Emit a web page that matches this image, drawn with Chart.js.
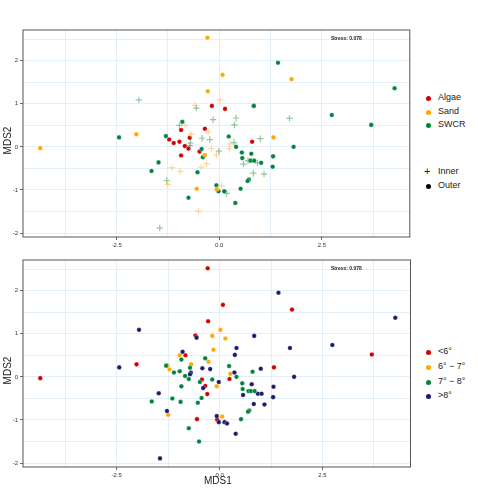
<!DOCTYPE html>
<html><head><meta charset="utf-8">
<script src="https://cdn.jsdelivr.net/npm/chart.js@4"></script>
<style>
body{margin:0;background:#fff;font-family:"Liberation Sans",Arial,sans-serif;width:478px;height:504px;position:relative;overflow:hidden}
canvas{position:absolute}
.t{position:absolute;font-size:9px;color:#222;white-space:nowrap}
.d{position:absolute;width:5px;height:5px;border-radius:50%}
</style></head><body>
<canvas id="c1" width="415" height="235" style="left:0;top:20px;width:415px;height:235px"></canvas>
<canvas id="c2" width="415" height="235" style="left:0;top:250px;width:415px;height:235px"></canvas>
<div class="t" style="left:-6px;top:135px;transform:rotate(-90deg);font-size:10px">MDS2</div>
<div class="t" style="left:-6px;top:365px;transform:rotate(-90deg);font-size:10px">MDS2</div>
<div class="t" style="left:204px;top:475px;font-size:10px">MDS1</div>
<div class="t" style="left:331px;top:35px;font-size:5px;font-weight:bold">Stress: 0.078</div>
<div class="t" style="left:331px;top:265px;font-size:5px;font-weight:bold">Stress: 0.078</div>
<div id="leg"></div>
<script>
// ---- top panel: habitat / position ----
const algaeX=[-0.18,0.14,-0.35,-0.93,-0.72,-1.22,-1.11,-0.97,-0.84,-0.75,-0.48,-0.93,0.80,0.84];
const algaeY=[0.95,0.88,0.42,0.39,0.21,0.17,0.09,0.12,0.02,-0.04,-0.11,-0.20,0.12,0.95];
const sandOutX=[-0.29,0.08,1.76,-0.28,-2.02,-4.36,1.32,-0.35,-0.55,-0.06];
const sandOutY=[2.53,1.67,1.57,1.29,0.29,-0.03,0.22,-0.19,-0.97,-0.98];
const sandInX=[0.02,-0.59,-0.83,-0.27,-0.69,0.26,-0.19,0.25,-0.07,-0.31,-0.44,-1.15,-0.95,-1.25,0.06,-0.51];
const sandInY=[1.09,0.96,0.50,0.34,0.29,0.07,-0.04,-0.04,-0.19,-0.39,-0.47,-0.48,-0.57,-0.87,-0.90,-1.49];
const swcrOutX=[1.43,4.27,2.74,3.70,0.84,-0.90,-2.44,-1.30,0.23,0.41,1.81,-0.43,0.55,0.78,-0.40,0.56,1.31,0.76,0.85,1.02,1.30,-1.48,-1.65,-0.53,0.72,0.69,-0.07,-0.02,0.12,0.52,-0.75,0.39];
const swcrOutY=[1.95,1.36,0.74,0.51,0.95,0.58,0.22,0.25,0.24,0.00,0.00,-0.05,-0.13,-0.16,-0.24,-0.26,-0.22,-0.32,-0.32,-0.37,-0.46,-0.36,-0.56,-0.59,-0.76,-0.79,-0.89,-1.03,-1.03,-0.97,-1.18,-1.30];
const swcrInX=[-1.96,-0.56,-0.15,0.41,1.71,0.37,-0.97,-0.42,-0.23,1.00,-0.70,-0.72,0.36,-0.01,0.70,0.93,0.59,0.83,1.09,-1.28,0.18,-1.45];
const swcrInY=[1.09,0.90,0.63,0.67,0.66,0.51,0.50,0.20,0.17,0.19,0.09,0.03,0.10,-0.10,-0.32,-0.37,-0.40,-0.61,-0.63,-0.78,-1.08,-1.88];
// ---- bottom panel: temperature ----
const t1X=[-0.29,0.08,1.76,-0.28,-0.59,-0.83,-2.02,-4.36,1.32,3.70,-0.43,-0.35,-0.30,-0.55,-0.06,0.24];
const t1Y=[2.52,1.67,1.56,1.29,0.96,0.50,0.29,-0.03,0.22,0.52,-0.06,-0.21,-0.40,-0.98,-0.99,-0.05];
const t2X=[0.02,-0.18,0.14,-0.15,-0.97,-0.27,-0.69,-1.27,-1.22,0.26,-0.07,-1.25,0.06];
const t2Y=[1.09,0.95,0.89,0.63,0.50,0.35,0.29,0.26,0.17,0.07,-0.22,-0.88,-0.92];
const t3X=[-0.35,-0.93,-1.30,-0.72,-1.11,-0.97,-0.84,-0.75,-0.48,-0.93,0.23,0.80,0.41,-0.18,0.55,0.56,0.70,0.76,0.85,-1.15,-0.44,-1.65,-0.95,-0.53,0.72,0.69,0.52,-0.75,-0.50];
const t3Y=[0.43,0.40,0.26,0.21,0.10,0.13,0.02,-0.05,-0.12,-0.22,0.25,0.12,0.00,-0.06,-0.15,-0.28,-0.33,-0.33,-0.33,-0.50,-0.49,-0.57,-0.58,-0.60,-0.78,-0.81,-0.98,-1.19,-1.50];
const t4X=[1.43,4.27,2.74,-1.96,-0.56,0.84,1.71,0.41,0.37,-0.90,-2.44,-0.42,-0.23,1.00,-0.70,-0.72,0.36,1.81,-0.02,-0.40,0.78,1.31,-1.48,0.57,0.93,1.02,1.30,0.83,1.09,-1.28,-0.07,-0.02,0.12,0.18,0.39,-1.45];
const t4Y=[1.95,1.37,0.74,1.09,0.91,0.95,0.67,0.67,0.51,0.58,0.22,0.20,0.18,0.19,0.10,0.06,0.10,0.00,-0.12,-0.26,-0.17,-0.23,-0.38,-0.42,-0.39,-0.39,-0.47,-0.63,-0.64,-0.79,-0.91,-1.05,-1.05,-1.08,-1.32,-1.89];
const xTicks=[-2.5,0,2.5], yTicks=[-2,-1,0,1,2];

const RED='#d00000',ORG='#ffa800',GRN='#00843d',NAV='#1b1a6b';
const pts=(X,Y)=>X.map((x,i)=>({x,y:Y[i]}));
function dot(X,Y,c){return{data:pts(X,Y),backgroundColor:c,borderColor:'rgba(255,255,255,0.6)',borderWidth:0.5,pointRadius:2.3};}
function cross(X,Y,c){return{data:pts(X,Y),pointStyle:'cross',borderColor:c,borderWidth:1.2,pointRadius:3.2};}
const frame={id:'frame',afterDraw(ch){const a=ch.chartArea,x=ch.ctx;x.save();x.strokeStyle='#555';x.lineWidth=1;x.strokeRect(a.left,a.top,a.right-a.left,a.bottom-a.top);x.restore();}};
function opts(){return{responsive:false,animation:false,layout:{padding:{top:10,right:2}},
plugins:{legend:{display:false},tooltip:{enabled:false}},
scales:{x:{type:'linear',min:-4.78,max:4.64,afterBuildTicks(s){s.ticks=[-3.75,-2.5,-1.25,0,1.25,2.5,3.75].map(v=>({value:v}));},
 afterFit(s){s.height=18;},grid:{color:'#dcebf7',lineWidth:0.8,drawTicks:true,tickLength:3,tickColor:c=>xTicks.includes(c.tick.value)?'#444':'rgba(0,0,0,0)'},border:{display:false},
 ticks:{font:{size:6},color:'#333',padding:2,maxRotation:0,autoSkip:false,callback:v=>xTicks.includes(v)?v.toFixed(1):''}},
y:{type:'linear',min:-2.09,max:2.71,afterBuildTicks(s){s.ticks=[-2,-1.5,-1,-0.5,0,0.5,1,1.5,2,2.5].map(v=>({value:v}));},
 afterFit(s){s.width=23;},grid:{color:'#dcebf7',lineWidth:0.8,tickLength:3,tickColor:c=>yTicks.includes(c.tick.value)?'#444':'rgba(0,0,0,0)'},border:{display:false},
 ticks:{font:{size:6},color:'#333',padding:2,autoSkip:false,callback:v=>yTicks.includes(v)?String(v):''}}}};}
new Chart(document.getElementById('c1'),{type:'scatter',plugins:[frame],data:{datasets:[
 cross(sandInX,sandInY,'rgba(255,190,80,0.6)'),cross(swcrInX,swcrInY,'rgba(60,150,90,0.55)'),
 dot(sandOutX,sandOutY,ORG),dot(swcrOutX,swcrOutY,GRN),dot(algaeX,algaeY,RED)]},options:opts()});
new Chart(document.getElementById('c2'),{type:'scatter',plugins:[frame],data:{datasets:[
 dot(t3X,t3Y,GRN),dot(t4X,t4Y,NAV),dot(t2X,t2Y,ORG),dot(t1X,t1Y,RED)]},options:opts()});
const L=[['d',RED,'Algae',98],['d',ORG,'Sand',112],['d',GRN,'SWCR',125],['p','#000','Inner',172],['d','#000','Outer',186],
 ['d',RED,'<6°',352],['d',ORG,'6° − 7°',367],['d',GRN,'7° − 8°',382],['d',NAV,'>8°',396]];
let h='';for(const [k,c,t,y] of L){h+=k==='d'?`<div class="d" style="left:426px;top:${y-2.5}px;background:${c}"></div>`:`<div class="t" style="left:424px;top:${y-7}px;font-size:11px">+</div>`;
h+=`<div class="t" style="left:438px;top:${y-6}px">${t}</div>`;}
document.getElementById('leg').innerHTML=h;
</script></body></html>
